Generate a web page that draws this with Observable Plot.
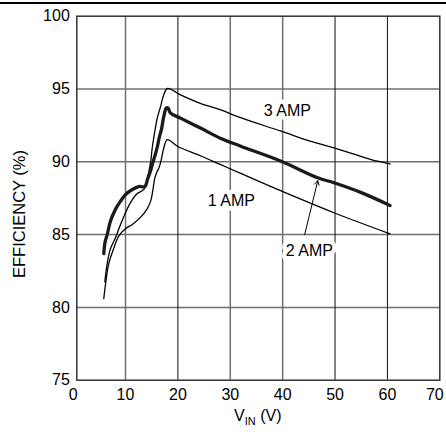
<!DOCTYPE html>
<html>
<head>
<meta charset="utf-8">
<script src="https://cdn.jsdelivr.net/npm/d3@7"></script>
<script src="https://cdn.jsdelivr.net/npm/@observablehq/plot@0.6"></script>
<style>
  html, body { margin: 0; padding: 0; background: #fff; }
  #chart { position: relative; width: 446px; height: 440px; }
</style>
</head>
<body>
<div id="chart"></div>
<script>
// ---- data ----
const vin1 = [5.85, 6.3, 6.8, 7.8, 8.7, 10.0, 11.3, 12.9, 14.1, 14.8, 15.2, 15.6, 16.0, 16.4, 16.9, 17.3, 18.0, 19.9, 24.4, 28.2, 32.0, 39.7, 49.8, 60.5];
const eff1 = [80.6, 81.9, 83.0, 84.1, 84.9, 85.4, 85.7, 86.2, 86.75, 87.3, 88.0, 88.9, 89.3, 89.6, 90.27, 90.95, 91.52, 91.07, 90.4, 89.8, 89.2, 88.0, 86.5, 85.05];

const vin2 = [5.85, 6.1, 6.5, 7.1, 8.1, 9.05, 10.0, 11.3, 12.5, 13.7, 14.2, 14.8, 15.1, 15.6, 16.06, 16.4, 16.9, 17.3, 17.8, 18.1, 18.6, 20.5, 24.4, 28.2, 32.0, 39.7, 46.7, 49.8, 54.9, 60.5];
const eff2 = [83.7, 84.5, 85.0, 85.9, 86.75, 87.3, 87.75, 88.1, 88.3, 88.3, 88.8, 89.4, 89.8, 90.4, 91.0, 91.6, 92.3, 93.1, 93.7, 93.7, 93.34, 93.0, 92.3, 91.6, 91.07, 90.04, 88.9, 88.56, 87.9, 87.0];

const vin3 = [6.05, 6.5, 7.1, 8.1, 9.05, 10.0, 10.95, 12.2, 13.5, 14.2, 14.8, 15.1, 15.6, 16.06, 16.7, 17.3, 18.0, 20.5, 24.4, 28.2, 31.4, 39.7, 45.4, 49.8, 53.0, 58.1, 60.5];
const eff3 = [81.75, 83.0, 84.0, 84.8, 85.7, 86.5, 87.2, 87.8, 88.1, 88.9, 90.0, 90.95, 92.1, 93.0, 93.8, 94.6, 95.04, 94.6, 94.0, 93.57, 93.1, 92.1, 91.4, 90.95, 90.6, 90.04, 89.86];

const xTicks = [0, 10, 20, 30, 40, 50, 60];
const xTickLast = [70];
const yTicks = [75, 80, 85, 90, 95, 100];
const gridXGray = [10, 30, 40];
const gridXBlack = [20, 50, 60];
const gridY = [80, 85, 90, 95];

const labelText = ["3 AMP", "1 AMP", "2 AMP"];
const labelX = [40.9, 30.2, 45.1];
const labelY = [93.5, 87.3, 83.9];

const arrowFrom = [44.2, 85.0];
const arrowTo = [46.7, 88.7];

const yTitle = "EFFICIENCY (%)";

// ---- tables ----
const toRows = (xs, ys) => xs.map((x, i) => ({x, y: ys[i]}));
const s1 = toRows(vin1, eff1);
const s2 = toRows(vin2, eff2);
const s3 = toRows(vin3, eff3);
const labels = labelText.map((t, i) => ({t, x: labelX[i], y: labelY[i]}));

const FONT = "'Liberation Sans', Arial, Helvetica, sans-serif";

const plot = Plot.plot({
  width: 446,
  height: 440,
  marginLeft: 76.3,
  marginRight: 6.7,
  marginTop: 15.7,
  marginBottom: 60.3,
  style: {fontFamily: FONT, fontSize: "16px", color: "#000", background: "#fff", overflow: "visible"},
  x: {domain: [0.7, 70]},
  y: {domain: [75, 100]},
  marks: [
    Plot.ruleY(gridY, {stroke: "#707070", strokeWidth: 1.5}),
    Plot.ruleX(gridXGray, {stroke: "#707070", strokeWidth: 1.5}),
    Plot.ruleX(gridXBlack, {stroke: "#111", strokeWidth: 1}),
    Plot.frame({stroke: "#333", strokeWidth: 1.5}),
    Plot.axisY({ticks: yTicks, tickSize: 0, tickPadding: 7, label: null, fontSize: 16}),
    Plot.axisX({ticks: xTicks, tickSize: 0, tickPadding: 8, label: null, fontSize: 16}),
    Plot.axisX({ticks: xTickLast, tickSize: 0, tickPadding: 8, label: null, fontSize: 16, dx: -5}),
    Plot.line(s1, {x: "x", y: "y", stroke: "#000", strokeWidth: 1.3, curve: "catmull-rom"}),
    Plot.line(s3, {x: "x", y: "y", stroke: "#000", strokeWidth: 1.3, curve: "catmull-rom"}),
    Plot.line(s2, {x: "x", y: "y", stroke: "#1a1a1a", strokeWidth: 3.3, curve: "catmull-rom"}),
    Plot.text(labels, {x: "x", y: "y", text: "t", fill: "#000", stroke: "#fff", strokeWidth: 9, fontSize: 16}),
    Plot.arrow({length: 1}, {x1: () => arrowFrom[0], y1: () => arrowFrom[1], x2: () => arrowTo[0], y2: () => arrowTo[1], stroke: "#000", strokeWidth: 1, headLength: 7})
  ]
});

const svg = d3.select(plot);

// y-axis title
svg.append("text")
  .attr("transform", "translate(19,214) rotate(-90)")
  .attr("text-anchor", "middle").attr("dominant-baseline", "central")
  .attr("font-family", FONT).attr("font-size", 16.5).attr("fill", "#000")
  .text(yTitle);

// x-axis title with subscript
const t = svg.append("text")
  .attr("x", 257.8).attr("y", 421)
  .attr("text-anchor", "middle")
  .attr("font-family", FONT).attr("font-size", 16).attr("fill", "#000");
t.append("tspan").text("V");
t.append("tspan").attr("font-size", 11).attr("dy", 4).text("IN");
t.append("tspan").attr("dy", -4).text(" (V)");

// top rule of the page
svg.append("line").attr("x1", 0).attr("x2", 446).attr("y1", 3).attr("y2", 3)
  .attr("stroke", "#000").attr("stroke-width", 2);

document.getElementById("chart").appendChild(plot);
</script>
</body>
</html>
